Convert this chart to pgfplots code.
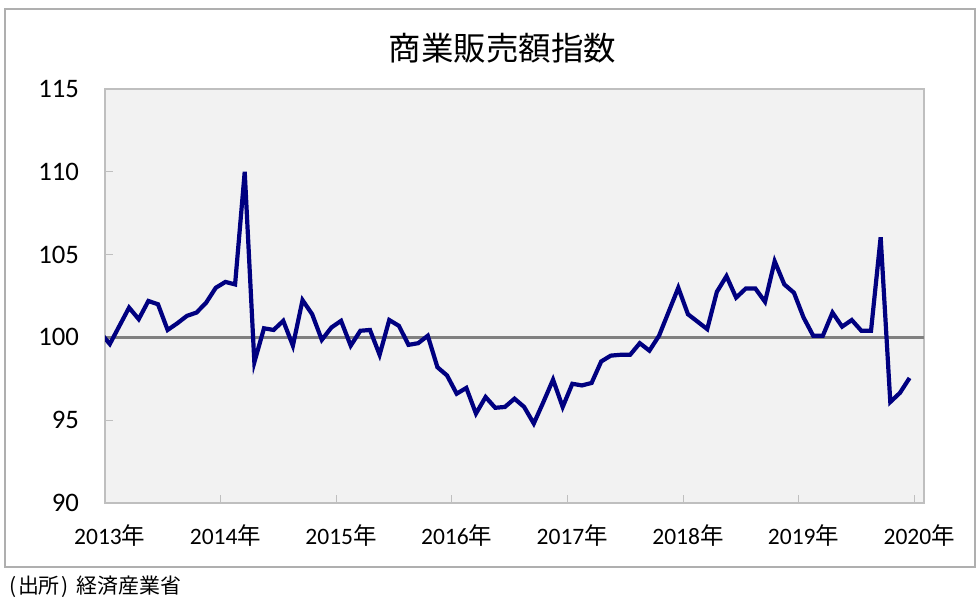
\documentclass[border=0pt]{standalone}
\usepackage{pgfplots}
\pgfplotsset{compat=1.18}
\usepackage{fontspec}
\setmainfont{Carlito}
\newfontfamily\jp{Noto Sans CJK JP}
\definecolor{linecol}{RGB}{0,0,128}
\definecolor{refgray}{RGB}{128,128,128}
\definecolor{plotbg}{RGB}{242,242,242}
\definecolor{axgray}{RGB}{191,191,191}
\definecolor{outgray}{RGB}{175,175,175}
\begin{document}
\begin{tikzpicture}[x=1bp,y=1bp]
\path (0,0) rectangle (490,303.5);
\draw[line width=0.7bp, color=outgray] (2.5,20) rectangle (487.5,299);
\node[font=\jp\fontsize{16.3}{16.3}\selectfont] at (251.25,279.3) {商業販売額指数};
\node[anchor=west, inner sep=0pt, font=\jp\fontsize{10.5}{10.5}\selectfont] at (2.5,10) {\kern2bp(\kern0.8bp 出所\kern0.8bp)\kern4bp 経済産業省};
\begin{axis}[
  at={(52.5bp,52bp)}, anchor=south west,
  scale only axis, width=409.5bp, height=207bp,
  xmin=-0.5, xmax=84.5, ymin=90, ymax=115,
  axis background/.style={fill=plotbg},
  axis line style={draw=axgray, line width=0.8bp},
  ytick={90,95,100,105,110,115},
  ytick pos=left, xtick pos=bottom,
  tick align=inside,
  major tick length=4bp,
  tick style={draw=axgray, line width=0.6bp},
  xtick={11.5,23.5,35.5,47.5,59.5,71.5,83.5},
  xticklabels={},
  extra x ticks={0,12,24,36,48,60,72,84},
  extra x tick labels={2013{\jp 年},2014{\jp 年},2015{\jp 年},2016{\jp 年},2017{\jp 年},2018{\jp 年},2019{\jp 年},2020{\jp 年}},
  extra x tick style={major tick length=0pt},
  /pgf/number format/assume math mode=true,
  yticklabel style={font=\fontsize{13.4}{13.4}\selectfont, xshift=-9.5bp},
  xticklabel style={font=\fontsize{11.8}{11.8}\selectfont, yshift=-7.5bp},
]
\addplot[refgray, line width=1.5bp] coordinates {(-0.5,100) (84.5,100)};
\addplot[linecol, line width=2.1bp, line join=miter, mark=none] coordinates {
(-1,100.3) (0,99.6) (1,100.7) (2,101.8) (3,101.1) (4,102.2) (5,102.0) (6,100.45) (7,100.85) (8,101.3) (9,101.5) (10,102.1) (11,103.0)
(12,103.35) (13,103.2) (14,110.0) (15,98.5) (16,100.55) (17,100.45) (18,101.0) (19,99.5) (20,102.25) (21,101.4) (22,99.85) (23,100.6)
(24,101.0) (25,99.5) (26,100.4) (27,100.45) (28,98.95) (29,101.05) (30,100.7) (31,99.55) (32,99.65) (33,100.1) (34,98.2) (35,97.7)
(36,96.6) (37,96.95) (38,95.4) (39,96.4) (40,95.75) (41,95.8) (42,96.3) (43,95.8) (44,94.8) (45,96.1) (46,97.45) (47,95.8)
(48,97.2) (49,97.1) (50,97.25) (51,98.55) (52,98.9) (53,98.95) (54,98.95) (55,99.65) (56,99.2) (57,100.1) (58,101.55) (59,103.0)
(60,101.4) (61,100.95) (62,100.5) (63,102.75) (64,103.7) (65,102.4) (66,102.95) (67,102.95) (68,102.15) (69,104.6) (70,103.2) (71,102.7)
(72,101.2) (73,100.1) (74,100.1) (75,101.5) (76,100.65) (77,101.05) (78,100.4) (79,100.4) (80,106.05) (81,96.1) (82,96.65) (83,97.55)
};
\end{axis}
\end{tikzpicture}
\end{document}
